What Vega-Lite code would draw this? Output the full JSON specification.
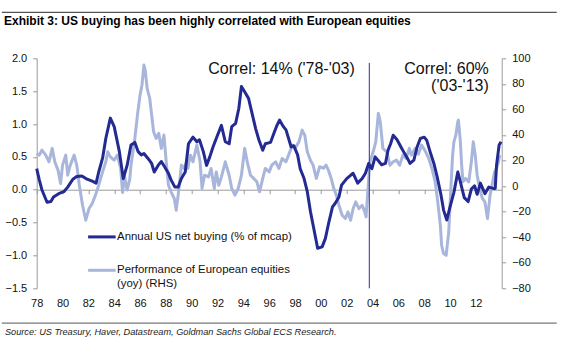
{
  "$schema": "https://vega.github.io/schema/vega-lite/v6.json",
  "width": 465,
  "height": 230,
  "autosize": {"type": "none"},
  "padding": {"left": 36.7, "top": 58.3, "right": 68.3, "bottom": 61.7},
  "background": "white",
  "config": {
    "view": {"stroke": null},
    "font": "Liberation Sans",
    "axis": {"grid": false, "title": null, "labelFont": "Liberation Sans", "labelFontSize": 11, "labelColor": "#111111", "domainColor": "#9a9a9a", "tickColor": "#9a9a9a", "tickSize": 4, "labelOverlap": false, "labelFlush": false, "labelBound": false}
  },
  "datasets": {
    "us": [
      {"year": 1978.0, "value": 0.32}, {"year": 1978.2, "value": 0.15}, {"year": 1978.4, "value": 0.0}, {"year": 1978.8, "value": -0.19},
      {"year": 1979.1, "value": -0.18}, {"year": 1979.3, "value": -0.11}, {"year": 1979.7, "value": -0.06}, {"year": 1980.1, "value": -0.03},
      {"year": 1980.4, "value": 0.04}, {"year": 1980.8, "value": 0.16}, {"year": 1981.1, "value": 0.2}, {"year": 1981.5, "value": 0.21},
      {"year": 1981.9, "value": 0.16}, {"year": 1982.3, "value": 0.13}, {"year": 1982.6, "value": 0.1}, {"year": 1982.8, "value": 0.27},
      {"year": 1983.1, "value": 0.48}, {"year": 1983.35, "value": 0.78}, {"year": 1983.7, "value": 1.09}, {"year": 1984.0, "value": 0.96},
      {"year": 1984.4, "value": 0.58}, {"year": 1984.7, "value": 0.17}, {"year": 1985.0, "value": 0.37}, {"year": 1985.3, "value": 0.68},
      {"year": 1985.6, "value": 0.72}, {"year": 1985.85, "value": 0.58}, {"year": 1986.1, "value": 0.53}, {"year": 1986.3, "value": 0.55},
      {"year": 1986.6, "value": 0.48}, {"year": 1986.9, "value": 0.4}, {"year": 1987.1, "value": 0.27}, {"year": 1987.4, "value": 0.37},
      {"year": 1987.65, "value": 0.43}, {"year": 1987.9, "value": 0.35}, {"year": 1988.2, "value": 0.25}, {"year": 1988.4, "value": 0.15},
      {"year": 1988.7, "value": 0.04}, {"year": 1988.95, "value": 0.04}, {"year": 1989.2, "value": 0.17}, {"year": 1989.5, "value": 0.27},
      {"year": 1989.75, "value": 0.7}, {"year": 1990.1, "value": 0.8}, {"year": 1990.4, "value": 0.73}, {"year": 1990.6, "value": 0.76},
      {"year": 1990.9, "value": 0.58}, {"year": 1991.15, "value": 0.37}, {"year": 1991.4, "value": 0.5}, {"year": 1991.65, "value": 0.65},
      {"year": 1991.9, "value": 0.78}, {"year": 1992.3, "value": 0.98}, {"year": 1992.6, "value": 0.73}, {"year": 1992.9, "value": 0.7},
      {"year": 1993.1, "value": 0.96}, {"year": 1993.4, "value": 1.01}, {"year": 1993.65, "value": 1.24}, {"year": 1993.85, "value": 1.57},
      {"year": 1994.1, "value": 1.49}, {"year": 1994.4, "value": 1.39}, {"year": 1994.7, "value": 1.14}, {"year": 1994.95, "value": 0.93},
      {"year": 1995.2, "value": 0.76}, {"year": 1995.5, "value": 0.6}, {"year": 1995.7, "value": 0.7}, {"year": 1996.1, "value": 0.72},
      {"year": 1996.4, "value": 0.88}, {"year": 1996.6, "value": 0.98}, {"year": 1996.8, "value": 1.06}, {"year": 1997.1, "value": 0.96},
      {"year": 1997.3, "value": 0.91}, {"year": 1997.7, "value": 0.65}, {"year": 1997.9, "value": 0.67}, {"year": 1998.2, "value": 0.53},
      {"year": 1998.4, "value": 0.32}, {"year": 1998.7, "value": 0.17}, {"year": 1998.95, "value": -0.03}, {"year": 1999.2, "value": -0.34},
      {"year": 1999.5, "value": -0.64}, {"year": 1999.75, "value": -0.89}, {"year": 2000.1, "value": -0.87}, {"year": 2000.35, "value": -0.74},
      {"year": 2000.6, "value": -0.51}, {"year": 2000.9, "value": -0.26}, {"year": 2001.1, "value": -0.21}, {"year": 2001.4, "value": -0.11},
      {"year": 2001.6, "value": 0.07}, {"year": 2002.0, "value": 0.17}, {"year": 2002.3, "value": 0.22}, {"year": 2002.5, "value": 0.25},
      {"year": 2002.85, "value": 0.1}, {"year": 2003.2, "value": 0.17}, {"year": 2003.45, "value": 0.25}, {"year": 2003.7, "value": 0.4},
      {"year": 2003.95, "value": 0.32}, {"year": 2004.2, "value": 0.5}, {"year": 2004.5, "value": 0.43}, {"year": 2004.7, "value": 0.38},
      {"year": 2005.0, "value": 0.4}, {"year": 2005.2, "value": 0.6}, {"year": 2005.4, "value": 0.7}, {"year": 2005.6, "value": 0.83},
      {"year": 2005.9, "value": 0.76}, {"year": 2006.2, "value": 0.65}, {"year": 2006.4, "value": 0.58}, {"year": 2006.7, "value": 0.48},
      {"year": 2006.9, "value": 0.4}, {"year": 2007.2, "value": 0.45}, {"year": 2007.45, "value": 0.65}, {"year": 2007.7, "value": 0.78},
      {"year": 2008.0, "value": 0.8}, {"year": 2008.2, "value": 0.75}, {"year": 2008.5, "value": 0.55}, {"year": 2008.75, "value": 0.4},
      {"year": 2009.0, "value": 0.2}, {"year": 2009.3, "value": -0.08}, {"year": 2009.5, "value": -0.31}, {"year": 2009.75, "value": -0.46},
      {"year": 2010.0, "value": -0.26}, {"year": 2010.3, "value": -0.04}, {"year": 2010.6, "value": 0.27}, {"year": 2010.8, "value": 0.12},
      {"year": 2011.1, "value": -0.12}, {"year": 2011.4, "value": -0.18}, {"year": 2011.65, "value": 0.01}, {"year": 2011.9, "value": 0.06},
      {"year": 2012.1, "value": -0.07}, {"year": 2012.35, "value": 0.1}, {"year": 2012.7, "value": -0.06}, {"year": 2013.0, "value": 0.04},
      {"year": 2013.35, "value": 0.02}, {"year": 2013.5, "value": 0.02}, {"year": 2013.6, "value": 0.37}, {"year": 2013.8, "value": 0.68},
      {"year": 2013.95, "value": 0.73}
    ],
    "eu": [
      {"year": 1978.0, "value": 25.5}, {"year": 1978.2, "value": 24.2}, {"year": 1978.4, "value": 28.1}, {"year": 1978.7, "value": 24.2},
      {"year": 1978.95, "value": 19.0}, {"year": 1979.2, "value": 29.5}, {"year": 1979.4, "value": 19.0}, {"year": 1979.65, "value": 12.5},
      {"year": 1979.85, "value": 2.0}, {"year": 1980.0, "value": 16.4}, {"year": 1980.25, "value": 24.2}, {"year": 1980.4, "value": 8.5},
      {"year": 1980.6, "value": 16.4}, {"year": 1980.9, "value": 24.2}, {"year": 1981.1, "value": 16.4}, {"year": 1981.3, "value": 0.7},
      {"year": 1981.55, "value": -15.0}, {"year": 1981.8, "value": -26.7}, {"year": 1982.05, "value": -17.6}, {"year": 1982.3, "value": -13.6},
      {"year": 1982.55, "value": -7.1}, {"year": 1982.8, "value": 0.7}, {"year": 1983.1, "value": 11.1}, {"year": 1983.35, "value": 19.0},
      {"year": 1983.5, "value": 26.8}, {"year": 1983.7, "value": 22.9}, {"year": 1984.0, "value": 20.3}, {"year": 1984.25, "value": 24.2},
      {"year": 1984.5, "value": 13.8}, {"year": 1984.65, "value": -5.0}, {"year": 1984.8, "value": 8.0}, {"year": 1985.0, "value": -3.0},
      {"year": 1985.2, "value": 5.0}, {"year": 1985.3, "value": 16.4}, {"year": 1985.6, "value": 37.3}, {"year": 1985.8, "value": 55.6},
      {"year": 1986.0, "value": 71.2}, {"year": 1986.15, "value": 79.1}, {"year": 1986.3, "value": 94.7}, {"year": 1986.4, "value": 90.8},
      {"year": 1986.55, "value": 76.5}, {"year": 1986.75, "value": 68.7}, {"year": 1986.9, "value": 55.6}, {"year": 1987.05, "value": 42.5},
      {"year": 1987.25, "value": 37.3}, {"year": 1987.45, "value": 41.2}, {"year": 1987.65, "value": 29.5}, {"year": 1987.85, "value": 39.9},
      {"year": 1988.05, "value": 16.4}, {"year": 1988.2, "value": 0.7}, {"year": 1988.4, "value": -4.5}, {"year": 1988.65, "value": -9.7},
      {"year": 1988.8, "value": -18.9}, {"year": 1988.95, "value": -7.1}, {"year": 1989.1, "value": 6.0}, {"year": 1989.2, "value": 16.4},
      {"year": 1989.4, "value": 13.8}, {"year": 1989.6, "value": 19.0}, {"year": 1989.7, "value": 13.8}, {"year": 1989.9, "value": 24.2},
      {"year": 1990.1, "value": 19.0}, {"year": 1990.4, "value": 32.1}, {"year": 1990.65, "value": 19.0}, {"year": 1990.8, "value": -1.9},
      {"year": 1991.0, "value": 8.5}, {"year": 1991.3, "value": 7.2}, {"year": 1991.5, "value": 13.8}, {"year": 1991.75, "value": -1.9},
      {"year": 1991.9, "value": 11.1}, {"year": 1992.1, "value": 0.7}, {"year": 1992.3, "value": 7.2}, {"year": 1992.6, "value": 19.0},
      {"year": 1992.9, "value": 8.5}, {"year": 1993.1, "value": -1.9}, {"year": 1993.35, "value": -7.1}, {"year": 1993.6, "value": -1.9},
      {"year": 1993.85, "value": 8.5}, {"year": 1994.1, "value": 29.5}, {"year": 1994.3, "value": 19.0}, {"year": 1994.55, "value": 8.5},
      {"year": 1994.8, "value": 6.0}, {"year": 1995.05, "value": 3.3}, {"year": 1995.25, "value": -4.5}, {"year": 1995.5, "value": 6.0},
      {"year": 1995.7, "value": 13.8}, {"year": 1996.0, "value": 11.1}, {"year": 1996.2, "value": 16.4}, {"year": 1996.5, "value": 19.0},
      {"year": 1996.75, "value": 13.8}, {"year": 1997.0, "value": 21.6}, {"year": 1997.3, "value": 19.0}, {"year": 1997.5, "value": 24.2},
      {"year": 1997.8, "value": 32.1}, {"year": 1998.0, "value": 29.5}, {"year": 1998.3, "value": 34.6}, {"year": 1998.55, "value": 43.8},
      {"year": 1998.75, "value": 39.9}, {"year": 1998.95, "value": 26.8}, {"year": 1999.2, "value": 20.0}, {"year": 1999.4, "value": 16.4},
      {"year": 1999.65, "value": 6.0}, {"year": 1999.9, "value": 15.1}, {"year": 2000.2, "value": 14.0}, {"year": 2000.4, "value": 16.4},
      {"year": 2000.6, "value": 12.0}, {"year": 2000.8, "value": 6.0}, {"year": 2001.0, "value": -1.9}, {"year": 2001.2, "value": -7.1},
      {"year": 2001.4, "value": -15.0}, {"year": 2001.65, "value": -22.8}, {"year": 2001.9, "value": -25.4}, {"year": 2002.1, "value": -20.2},
      {"year": 2002.3, "value": -26.7}, {"year": 2002.5, "value": -17.6}, {"year": 2002.7, "value": -12.4}, {"year": 2002.95, "value": -17.6},
      {"year": 2003.2, "value": -15.0}, {"year": 2003.4, "value": -20.2}, {"year": 2003.5, "value": -24.1}, {"year": 2003.65, "value": -1.9},
      {"year": 2003.8, "value": 19.0}, {"year": 2004.05, "value": 26.8}, {"year": 2004.25, "value": 34.6}, {"year": 2004.45, "value": 56.9},
      {"year": 2004.6, "value": 50.3}, {"year": 2004.8, "value": 29.5}, {"year": 2005.1, "value": 26.8}, {"year": 2005.35, "value": 16.4},
      {"year": 2005.6, "value": 19.0}, {"year": 2005.85, "value": 20.3}, {"year": 2006.1, "value": 16.4}, {"year": 2006.35, "value": 24.2},
      {"year": 2006.6, "value": 21.6}, {"year": 2006.85, "value": 29.5}, {"year": 2007.0, "value": 24.2}, {"year": 2007.3, "value": 29.5},
      {"year": 2007.55, "value": 25.0}, {"year": 2007.8, "value": 32.1}, {"year": 2008.1, "value": 27.0}, {"year": 2008.35, "value": 21.6},
      {"year": 2008.6, "value": 13.8}, {"year": 2008.85, "value": 3.3}, {"year": 2009.05, "value": -12.4}, {"year": 2009.25, "value": -30.6},
      {"year": 2009.35, "value": -46.3}, {"year": 2009.5, "value": -52.8}, {"year": 2009.7, "value": -54.2}, {"year": 2009.9, "value": -35.9},
      {"year": 2010.05, "value": -4.5}, {"year": 2010.2, "value": 24.2}, {"year": 2010.3, "value": 34.6}, {"year": 2010.45, "value": 39.9},
      {"year": 2010.6, "value": 50.3}, {"year": 2010.65, "value": 51.6}, {"year": 2010.8, "value": 34.6}, {"year": 2010.9, "value": 16.4},
      {"year": 2011.0, "value": 3.3}, {"year": 2011.2, "value": 6.0}, {"year": 2011.45, "value": 3.3}, {"year": 2011.65, "value": 19.0},
      {"year": 2011.8, "value": 34.6}, {"year": 2011.95, "value": 24.2}, {"year": 2012.1, "value": 8.5}, {"year": 2012.3, "value": -1.9},
      {"year": 2012.5, "value": -9.7}, {"year": 2012.7, "value": -12.4}, {"year": 2012.9, "value": -25.4}, {"year": 2013.1, "value": -7.1},
      {"year": 2013.3, "value": 3.3}, {"year": 2013.45, "value": 11.1}, {"year": 2013.6, "value": 13.8}, {"year": 2013.75, "value": 19.0},
      {"year": 2013.85, "value": 24.2}
    ]
  },
  "layer": [
    {
      "data": {"name": "eu"},
      "mark": {"type": "line", "color": "#A9B6DB", "strokeWidth": 3, "strokeJoin": "round"},
      "encoding": {
        "x": {"field": "year", "type": "quantitative",
              "scale": {"domain": [1978, 2014], "nice": false, "zero": false},
              "axis": {"orient": "bottom", "offset": -98.6, "values": [1978,1980,1982,1984,1986,1988,1990,1992,1994,1996,1998,2000,2002,2004,2006,2008,2010,2012], "labels": false, "ticks": true, "tickSize": 4, "domain": true, "domainColor": "#9a9a9a"}},
        "y": {"field": "value", "type": "quantitative",
              "scale": {"domain": [-80, 100], "nice": false, "zero": false},
              "axis": {"orient": "right", "values": [-80,-60,-40,-20,0,20,40,60,80,100], "labelPadding": 6, "labelOverlap": false}}
      }
    },
    {
      "data": {"name": "us"},
      "mark": {"type": "line", "color": "#232A92", "strokeWidth": 3, "strokeJoin": "round"},
      "encoding": {
        "x": {"field": "year", "type": "quantitative",
              "scale": {"domain": [1978, 2014], "nice": false, "zero": false},
              "axis": {"orient": "bottom", "values": [1978,1980,1982,1984,1986,1988,1990,1992,1994,1996,1998,2000,2002,2004,2006,2008,2010,2012], "labelExpr": "substring(toString(datum.value), 2, 4)", "ticks": false, "domain": false, "labelPadding": 9, "labelOverlap": false}},
        "y": {"field": "value", "type": "quantitative",
              "scale": {"domain": [-1.5, 2.0], "nice": false, "zero": false},
              "axis": {"orient": "left", "values": [-1.5,-1.0,-0.5,0,0.5,1.0,1.5,2.0], "format": ".1f", "labelPadding": 6, "labelOverlap": false}}
      }
    },
    {
      "layer": [
        {
          "data": {"values": [{}]},
          "mark": {"type": "rule", "color": "#2E3192", "strokeWidth": 1},
          "encoding": {"x": {"datum": 2003.75, "axis": null}, "y": {"datum": 1.93, "axis": null, "scale": {"domain": [-1.5, 2.0], "nice": false, "zero": false}}, "y2": {"datum": -1.5}}
        },
        {
          "data": {"values": [{}]},
          "mark": {"type": "text", "text": "Correl: 14% ('78-'03)", "align": "left", "baseline": "alphabetic", "fontSize": 16, "color": "#111111"},
          "encoding": {"x": {"datum": 1991.28, "axis": null}, "y": {"datum": 1.765, "axis": null}}
        },
        {
          "data": {"values": [{}]},
          "mark": {"type": "text", "text": "Correl: 60%", "align": "right", "baseline": "alphabetic", "fontSize": 16, "color": "#111111"},
          "encoding": {"x": {"datum": 2013.0, "axis": null}, "y": {"datum": 1.765, "axis": null}}
        },
        {
          "data": {"values": [{}]},
          "mark": {"type": "text", "text": "('03-'13)", "align": "right", "baseline": "alphabetic", "fontSize": 16, "color": "#111111"},
          "encoding": {"x": {"datum": 2013.0, "axis": null}, "y": {"datum": 1.5, "axis": null}}
        },
        {
          "data": {"values": [{}]},
          "mark": {"type": "rule", "color": "#232A92", "strokeWidth": 3},
          "encoding": {"x": {"datum": 1981.98, "axis": null}, "x2": {"datum": 1984.11}, "y": {"datum": -0.718, "axis": null}}
        },
        {
          "data": {"values": [{}]},
          "mark": {"type": "text", "text": "Annual US net buying (% of mcap)", "align": "left", "baseline": "middle", "fontSize": 11.4, "color": "#111111"},
          "encoding": {"x": {"datum": 1984.22, "axis": null}, "y": {"datum": -0.718, "axis": null}}
        },
        {
          "data": {"values": [{}]},
          "mark": {"type": "rule", "color": "#A9B6DB", "strokeWidth": 3},
          "encoding": {"x": {"datum": 1981.98, "axis": null}, "x2": {"datum": 1984.11}, "y": {"datum": -1.226, "axis": null}}
        },
        {
          "data": {"values": [{}]},
          "mark": {"type": "text", "text": "Performance of European equities", "align": "left", "baseline": "middle", "fontSize": 11.4, "color": "#111111"},
          "encoding": {"x": {"datum": 1984.22, "axis": null}, "y": {"datum": -1.226, "axis": null}}
        },
        {
          "data": {"values": [{}]},
          "mark": {"type": "text", "text": "(yoy) (RHS)", "align": "left", "baseline": "middle", "fontSize": 11.4, "color": "#111111"},
          "encoding": {"x": {"datum": 1984.22, "axis": null}, "y": {"datum": -1.44, "axis": null}}
        },
        {
          "data": {"values": [{}]},
          "mark": {"type": "rule", "color": "#555555", "strokeWidth": 1.2},
          "encoding": {"x": {"datum": 1975.3, "axis": null}, "x2": {"datum": 2018.26}, "y": {"datum": 2.70, "axis": null}}
        },
        {
          "data": {"values": [{}]},
          "mark": {"type": "text", "text": "Exhibit 3: US buying has been highly correlated with European equities", "align": "left", "baseline": "alphabetic", "fontSize": 12, "fontWeight": "bold", "color": "#000000"},
          "encoding": {"x": {"datum": 1975.47, "axis": null}, "y": {"datum": 2.507, "axis": null}}
        },
        {
          "data": {"values": [{}]},
          "mark": {"type": "rule", "color": "#777777", "strokeWidth": 1.2},
          "encoding": {"x": {"datum": 1975.3, "axis": null}, "x2": {"datum": 2018.26}, "y": {"datum": -2.03, "axis": null}}
        },
        {
          "data": {"values": [{}]},
          "mark": {"type": "text", "text": "Source: US Treasury, Haver, Datastream, Goldman Sachs Global ECS Research.", "align": "left", "baseline": "middle", "fontSize": 9.2, "fontStyle": "italic", "color": "#222222"},
          "encoding": {"x": {"datum": 1975.54, "axis": null}, "y": {"datum": -2.17, "axis": null}}
        }
      ]
    }
  ],
  "resolve": {"scale": {"y": "independent"}, "axis": {"x": "independent", "y": "independent"}}
}
